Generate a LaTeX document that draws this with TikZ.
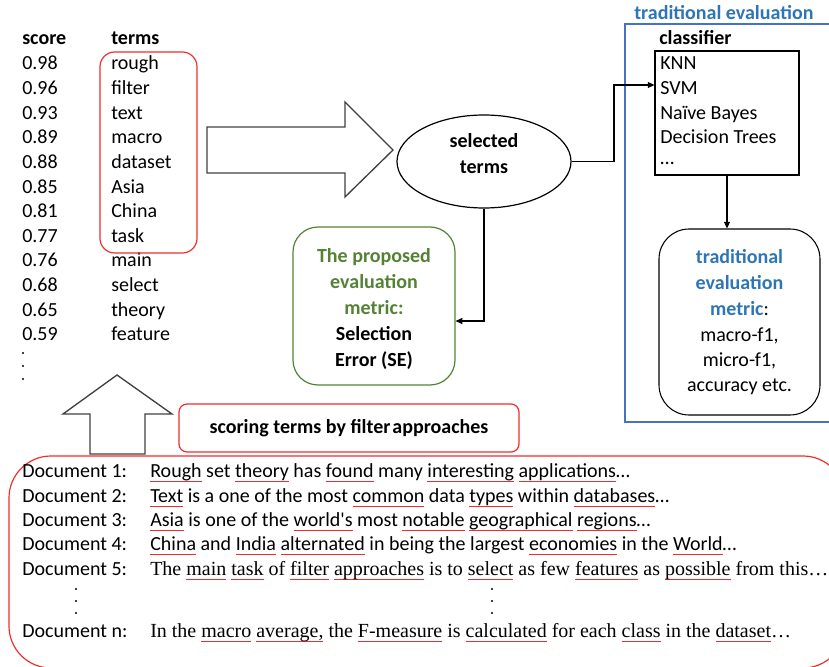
\documentclass[tikz,border=0pt]{standalone}
\usepackage{fontspec}
\setmainfont{Carlito}
\newfontfamily\serifdoc{Liberation Serif}
\newfontfamily\carlitoraw{Carlito}[Ligatures=TeXOff]
\usetikzlibrary{shapes.geometric,arrows.meta}
\definecolor{redline}{RGB}{240,45,45}
\definecolor{greenc}{RGB}{84,130,53}
\definecolor{bluetxt}{RGB}{46,117,182}
\definecolor{bluebox}{RGB}{68,114,196}
\definecolor{arrowgray}{RGB}{64,64,64}
\newcommand\redul[1]{\setbox0=\hbox{#1}\leavevmode\rlap{\textcolor{redline}{\rule[-3.8pt]{\wd0}{1pt}}}\box0\relax}
\tikzset{
  txt/.style={inner sep=0pt, anchor=base west, font=\fontsize{15}{18}\selectfont},
  hdr/.style={inner sep=0pt, anchor=base west, font=\fontsize{15}{18}\selectfont\bfseries},
  ctxt/.style={inner sep=0pt, anchor=base, font=\fontsize{15}{18}\selectfont},
  chdr/.style={inner sep=0pt, anchor=base, font=\fontsize{15}{18}\selectfont\bfseries},
  doctxt/.style={inner sep=0pt, anchor=base west, font=\fontsize{15}{18}\selectfont},
  serifline/.style={inner sep=0pt, anchor=base west, font=\serifdoc\fontsize{15}{18}\selectfont},
  bigarrow/.style={draw=arrowgray, line width=1pt, line join=miter},
  conn/.style={draw=black, line width=0.8pt, -{Triangle[length=5pt,width=4.5pt]}},
  redbox/.style={draw=redline, line width=0.9pt, inner sep=0pt},
}
\begin{document}
\begin{tikzpicture}[x=0.75pt,y=-0.75pt]
\useasboundingbox (0,0) rectangle (829,667);

% score / terms list
\node[hdr] (hscore) at (22,45) {score};
\node[hdr] (hterms) at (111,45) {terms};
\foreach \s/\t [count=\i] in {0.98/rough,0.96/filter,0.93/text,0.89/macro,0.88/dataset,0.85/Asia,0.81/China,0.77/task,0.76/main,0.68/select,0.65/theory,0.59/feature}{
  \node[txt] (s\i) at (22,45.4+24.6*\i) {\s};
  \node[txt] (t\i) at (111,45.4+24.6*\i) {\t};
}
\foreach \y in {353,366,379}{\fill (23,\y) circle (1.1);}
\node[redbox, rounded corners=11pt, minimum width=72.75pt, minimum height=150.75pt] (tbox) at (148.5,152.5) {};

% big right arrow
\draw[bigarrow] (207,127) -- (345,127) -- (345,102) -- (393,150) -- (345,197) -- (345,173) -- (207,173) -- cycle;

% selected terms
\node[ellipse, draw, line width=0.9pt, minimum width=130.5pt, minimum height=69.75pt, inner sep=0pt] (sel) at (484,161.5) {};
\node[chdr] (sel1) at (484,147) {selected};
\node[chdr] (sel2) at (484,173) {terms};

% traditional evaluation
\node[draw=bluebox, line width=1pt, minimum width=157.5pt, minimum height=298.5pt, inner sep=0pt] (tradbox) at (730,223) {};
\node[hdr, text=bluetxt] (ttl) at (634,20) {traditional evaluation};
\node[hdr] (clsh) at (659,45) {classifier};
\node[draw, line width=0.8pt, minimum width=108pt, minimum height=93pt, inner sep=0pt] (cls) at (727,113) {};
\node[txt] (c1) at (660,70) {KNN};
\node[txt] (c2) at (660,94.5) {SVM};
\node[txt] (c3) at (660,119) {Naïve Bayes};
\node[txt] (c4) at (660,143.5) {Decision Trees};
\node[txt] (c5) at (660,165) {…};

\node[draw, line width=0.8pt, rounded corners=22.5pt, minimum width=120.75pt, minimum height=139.5pt, inner sep=0pt] (met) at (739.5,322) {};
\node[chdr, text=bluetxt] (m1) at (739.5,263) {traditional};
\node[chdr, text=bluetxt] (m2) at (739.5,289) {evaluation};
\node[ctxt] (m3) at (739.5,315) {\textbf{\color{bluetxt}metric}:};
\node[ctxt] (m4) at (739.5,341) {macro-f1,};
\node[ctxt] (m5) at (739.5,366) {micro-f1,};
\node[ctxt] (m6) at (739.5,391) {accuracy etc.};

% proposed metric
\node[draw=greenc, line width=0.9pt, rounded corners=18.75pt, minimum width=121.5pt, minimum height=118.5pt, inner sep=0pt] (prop) at (374,306) {};
\node[chdr, text=greenc] (p1) at (374,262) {The proposed};
\node[chdr, text=greenc] (p2) at (374,288) {evaluation};
\node[chdr, text=greenc] (p3) at (374,314) {metric:};
\node[chdr] (p4) at (374,340) {Selection};
\node[chdr] (p5) at (374,366) {Error (SE)};

% connectors
\draw[conn] (sel.east) -- (614,161.5) |- (cls.west |- 0,85);
\draw[conn] (cls.south) -- (cls.south |- met.north);
\draw[conn] (sel.south) |- (prop.east |- 0,321);

% up arrow
\draw[bigarrow] (117,375) -- (172,414) -- (145,414) -- (145,454) -- (90,454) -- (90,414) -- (63,414) -- cycle;

% scoring box
\node[redbox, rounded corners=6pt, minimum width=255pt, minimum height=36pt, font=\fontsize{15}{18}\selectfont\bfseries] (filt) at (349,428) {scoring terms by filter\hspace{0.1em}approaches};

% documents
\node[redbox, rounded corners=31.5pt, minimum width=627pt, minimum height=159pt] (docs) at (427,562) {};
\node[doctxt] (d1) at (22,477) {Document 1:};
\node[doctxt] (d2) at (22,502) {Document 2:};
\node[doctxt] (d3) at (22,526) {Document 3:};
\node[doctxt] (d4) at (22,550) {Document 4:};
\node[doctxt] (d5) at (22,575) {Document 5:};
\node[doctxt] (dn) at (22,637) {Document n:};
\node[doctxt] (x1) at (150,477) {\redul{Rough} set \redul{theory} has \redul{found} many \redul{interesting} \redul{applications}…};
\node[doctxt] (x2) at (150,502) {\redul{Text} is a one of the most \redul{common} data \redul{types} within \redul{databases}…};
\node[doctxt] (x3) at (150,526) {\redul{Asia} is one of the \redul{world{\carlitoraw '}s} most \redul{notable} \redul{geographical} \redul{regions}…};
\node[doctxt] (x4) at (150,550) {\redul{China} and \redul{India} \redul{alternated} in being the largest \redul{economies} in the \redul{World}…};
\node[serifline] (x5) at (150,575) {The \redul{main} \redul{task} of \redul{filter} \redul{approaches} is to \redul{select} as few \redul{features} as \redul{possible} from this…};
\node[serifline] (xn) at (150,637) {In the \redul{macro} \redul{average,} the \redul{F-measure} is \redul{calculated} for each \redul{class} in the \redul{dataset}…};
\foreach \y in {589,601,613}{\fill (76,\y) circle (1.1); \fill (492,\y) circle (1.1);}
\end{tikzpicture}
\end{document}
